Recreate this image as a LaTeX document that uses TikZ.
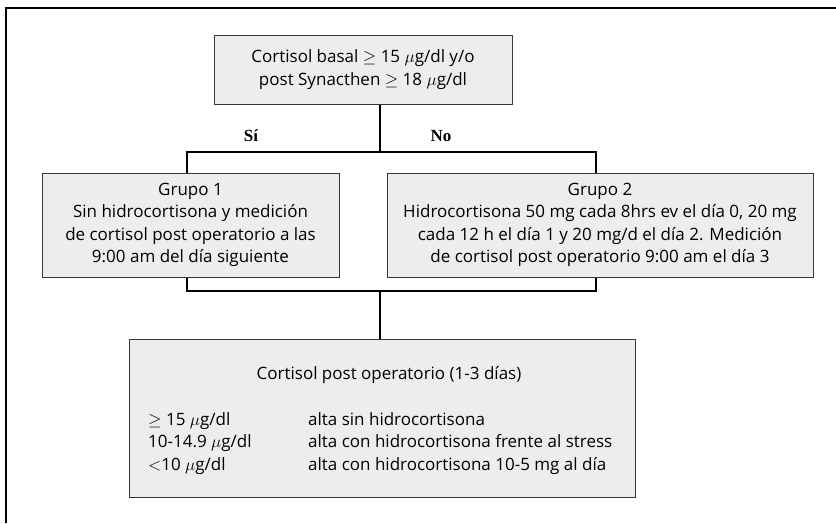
\documentclass[tikz,border=0pt]{standalone}
\usepackage{fontspec}
\setmainfont{Open Sans}
\newfontfamily\sifont{Liberation Serif}
\usetikzlibrary{positioning,calc}
\definecolor{boxgray}{RGB}{236,237,236}
\definecolor{edgegray}{RGB}{55,55,55}

\begin{document}
\begin{tikzpicture}[x=1pt,y=-1pt,font=\fontsize{17}{22.5}\selectfont]
\tikzstyle{bx}=[draw=edgegray,fill=boxgray,line width=1pt,align=center,inner sep=0pt]
\tikzstyle{ln}=[line width=1.4pt]
\tikzstyle{lbl}=[font=\sifont\bfseries\fontsize{17}{20}\selectfont]
\useasboundingbox (0,0) rectangle (836,523);
\draw[line width=1.5pt] (6,523) -- (6,8) -- (836,8);
\node[bx,minimum width=298,minimum height=69] (c) at (363,69.5) {Cortisol basal $\geq$ 15 $\mu$g/dl y/o\\post Synacthen $\geq$ 18 $\mu$g/dl};
\node[lbl] (si) at (251,136) {Sí};
\node[lbl] (no) at (441,136) {No};
\node[bx,minimum width=297,minimum height=104] (g1) at (190.5,225) {Grupo 1\\Sin hidrocortisona y medición\\de cortisol post operatorio a las\\9:00 am del día siguiente};
\node[bx,minimum width=426,minimum height=104] (g2) at (600,225) {Grupo 2\\Hidrocortisona 50 mg cada 8hrs ev el día 0, 20 mg\\cada 12 h el día 1 y 20 mg/d el día 2. Medición\\de cortisol post operatorio 9:00 am el día 3};
\node[bx,minimum width=506,minimum height=158] (r) at (382,418) {};
\node (rt) at (389,375) {Cortisol post operatorio (1-3 días)};
\node[anchor=west,inner sep=0pt] (rv) at (148,443) {\begin{tabular}{@{}p{160pt}@{}l@{}}
$\geq$ 15 $\mu$g/dl & alta sin hidrocortisona\\
10-14.9 $\mu$g/dl & alta con hidrocortisona frente al stress\\
$<$10 $\mu$g/dl & alta con hidrocortisona 10-5 mg al día
\end{tabular}};
% connectors
\coordinate (sp) at (380,152);
\coordinate (sl) at (187,152);
\coordinate (sr) at (596,152);
\coordinate (jl) at (187,291);
\coordinate (jr) at (596,291);
\coordinate (jm) at (380,291);
\draw[ln] (c.south -| sp) -- (sp);
\draw[ln] (g1.north -| sl) -- (sl) -- (sr) -- (g2.north -| sr);
\draw[ln] (g1.south -| jl) -- (jl) -- (jr) -- (g2.south -| jr);
\draw[ln] (jm) -- (r.north -| jm);
\end{tikzpicture}
\end{document}
